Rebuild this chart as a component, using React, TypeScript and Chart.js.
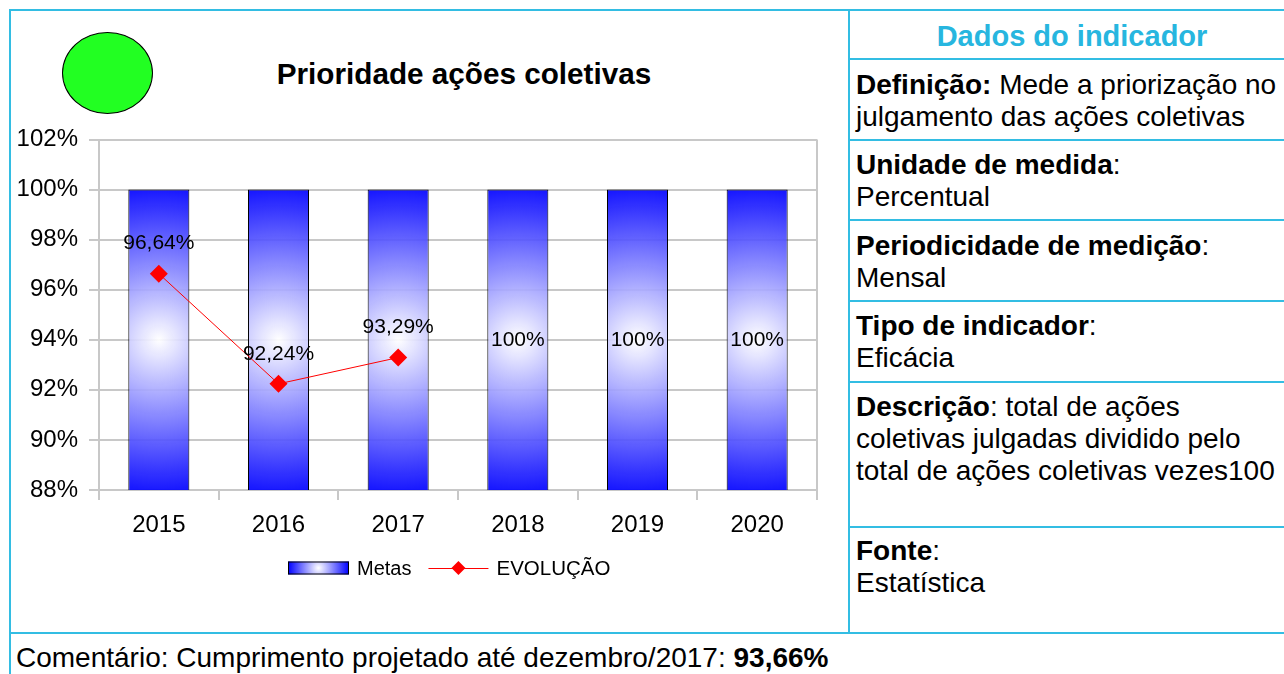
import React, { useEffect, useRef } from 'react';
import { Chart, registerables } from 'chart.js';

Chart.register(...registerables);

// ---------- data ----------
const years = ['2015', '2016', '2017', '2018', '2019', '2020'];
const metas = [100, 100, 100, 100, 100, 100];
const evolucao: (number | null)[] = [96.64, 92.24, 93.29, null, null, null];
const metasLabelShown = [false, false, false, true, true, true];
const yMin = 88;
const yMax = 102;
const yStep = 2;
const chartTitle = 'Prioridade ações coletivas';
const legendMetas = 'Metas';
const legendEvolucao = 'EVOLUÇÃO';
const comentario = 'Comentário: Cumprimento projetado até dezembro/2017: ';
const comentarioValor = '93,66%';

const FONT = '"Liberation Sans", Arial, Helvetica, sans-serif';
const GRID = '#c8c8c8';
const CYAN_LINE = '#33bde3';
const CYAN_TEXT = '#27b6df';

const fmt = (v: number) =>
  (Number.isInteger(v) ? String(v) : v.toFixed(2).replace('.', ',')) + '%';

const decorPlugin = {
  id: 'decor',
  afterDatasetsDraw(chart: any) {
    const c = chart.ctx;
    const a = chart.chartArea;
    const ys = chart.scales.y;
    c.save();
    // plot-area right border
    c.strokeStyle = GRID;
    c.lineWidth = 2;
    c.beginPath();
    c.moveTo(a.right, a.top);
    c.lineTo(a.right, a.bottom);
    c.stroke();
    // data labels
    c.fillStyle = '#000';
    c.font = `21px ${FONT}`;
    c.textAlign = 'center';
    c.textBaseline = 'middle';
    chart.data.datasets.forEach((ds: any, di: number) => {
      const meta = chart.getDatasetMeta(di);
      const isLine = meta.type === 'line';
      meta.data.forEach((el: any, i: number) => {
        const v = ds.data[i];
        if (v == null) return;
        if (isLine) {
          c.fillText(fmt(v), el.x, el.y - 30);
        } else if (metasLabelShown[i]) {
          const yc = (ys.getPixelForValue(v) + ys.getPixelForValue(ys.min)) / 2;
          c.fillText(fmt(v), el.x, yc);
        }
      });
    });
    c.restore();
  },
  afterDraw(chart: any) {
    const c = chart.ctx;
    const a = chart.chartArea;
    const y = a.bottom + 78;
    const x = a.left + 189;
    c.save();
    // Metas box
    const bw = 61;
    const bh = 13;
    const g = c.createRadialGradient(x + bw / 2, y, 0, x + bw / 2, y, bw / 2);
    g.addColorStop(0, '#ffffff');
    g.addColorStop(1, '#0000ff');
    c.fillStyle = g;
    c.fillRect(x, y - bh / 2, bw, bh);
    c.strokeStyle = '#000';
    c.lineWidth = 1;
    c.strokeRect(x + 0.5, y - bh / 2 + 0.5, bw - 1, bh - 1);
    c.font = `20px ${FONT}`;
    c.textAlign = 'left';
    c.textBaseline = 'middle';
    c.fillStyle = '#000';
    const tx = x + bw + 8;
    c.fillText(legendMetas, tx, y + 1);
    // Evolucao line + diamond
    const lx = tx + c.measureText(legendMetas).width + 17;
    c.strokeStyle = '#ff0000';
    c.lineWidth = 1;
    c.beginPath();
    c.moveTo(lx, y + 0.5);
    c.lineTo(lx + 60, y + 0.5);
    c.stroke();
    const dx = lx + 30;
    const r = 7;
    c.fillStyle = '#ff0000';
    c.beginPath();
    c.moveTo(dx, y - r);
    c.lineTo(dx + r, y);
    c.lineTo(dx, y + r);
    c.lineTo(dx - r, y);
    c.closePath();
    c.fill();
    c.fillStyle = '#000';
    c.font = `20.5px ${FONT}`;
    c.fillText(legendEvolucao, lx + 68, y + 1);
    c.restore();
  },
};

function barGradient(ctx: any) {
  const fallback = 'rgba(0,0,255,0.9)';
  const chart = ctx.chart;
  const xs = chart?.scales?.x;
  const ys = chart?.scales?.y;
  if (!xs || !ys || ctx.type !== 'data' || ctx.raw == null) return fallback;
  const cx = xs.getPixelForValue(ctx.dataIndex);
  const top = ys.getPixelForValue(ctx.raw);
  const bottom = ys.getPixelForValue(ys.min);
  if (![cx, top, bottom].every((n) => Number.isFinite(n)) || bottom - top <= 0) return fallback;
  const cy = (top + bottom) / 2;
  const r = (bottom - top) / 2;
  const g = chart.ctx.createRadialGradient(cx, cy, 0, cx, cy, r);
  g.addColorStop(0, 'rgba(255,255,255,0.92)');
  g.addColorStop(1, 'rgba(0,0,255,0.9)');
  return g;
}

function ChartPanel() {
  const ref = useRef<HTMLCanvasElement | null>(null);
  useEffect(() => {
    if (!ref.current) return;
    Chart.defaults.font.family = FONT;
    Chart.defaults.color = '#000';
    const chart = new Chart(ref.current, {
      type: 'bar',
      data: {
        labels: years,
        datasets: [
          {
            type: 'line',
            label: legendEvolucao,
            data: evolucao,
            borderColor: '#ff0000',
            backgroundColor: '#ff0000',
            borderWidth: 1,
            pointStyle: 'rectRot',
            pointRadius: 9,
            pointHoverRadius: 9,
            pointBackgroundColor: '#ff0000',
            pointBorderColor: '#ff0000',
            pointBorderWidth: 0,
            spanGaps: false,
            order: 0,
          } as any,
          {
            type: 'bar',
            label: legendMetas,
            data: metas,
            backgroundColor: barGradient,
            borderColor: '#000',
            borderWidth: 1,
            borderSkipped: false,
            categoryPercentage: 1,
            barPercentage: 0.51,
            order: 1,
          } as any,
        ],
      },
      options: {
        responsive: false,
        animation: false,
        events: [],
        layout: { padding: { top: 129.5, right: 31, left: 0, bottom: 0 } },
        plugins: {
          legend: { display: false },
          tooltip: { enabled: false },
          title: { display: false },
        },
        scales: {
          x: {
            ticks: { font: { size: 24 }, color: '#000', padding: 11 },
            grid: {
              drawOnChartArea: false,
              drawTicks: true,
              tickLength: 10,
              color: GRID,
              lineWidth: 2,
              offset: true,
            },
            border: { color: GRID, width: 2 },
            afterFit: (s: any) => {
              s.height = 142;
            },
          },
          y: {
            min: yMin,
            max: yMax,
            ticks: {
              stepSize: yStep,
              callback: (v: any) => v + '%',
              font: { size: 24 },
              color: '#000',
              padding: 11,
            },
            grid: { color: GRID, lineWidth: 2, tickLength: 10, drawTicks: true },
            border: { color: GRID, width: 2 },
            afterFit: (s: any) => {
              s.width = 89;
            },
          },
        },
      } as any,
      plugins: [decorPlugin],
    });
    return () => chart.destroy();
  }, []);
  return (
    <canvas
      ref={ref}
      width={838}
      height={622}
      style={{ position: 'absolute', left: 10, top: 10, width: 838, height: 622, display: 'block' }}
    />
  );
}

const hLine = (top: number, left: number, width: number) => (
  <div key={`h${top}-${left}`} style={{ position: 'absolute', top, left, width, height: 2, background: CYAN_LINE }} />
);
const vLine = (left: number, top: number, height: number) => (
  <div key={`v${left}-${top}`} style={{ position: 'absolute', top, left, width: 2, height, background: CYAN_LINE }} />
);

const cellText: React.CSSProperties = {
  position: 'absolute',
  left: 856,
  fontSize: 28,
  lineHeight: '32px',
  whiteSpace: 'nowrap',
  color: '#000',
};

export default function App() {
  return (
    <div
      style={{
        position: 'absolute',
        left: 0,
        top: 0,
        width: 1284,
        height: 674,
        overflow: 'hidden',
        background: '#fff',
        fontFamily: FONT,
      }}
    >
      {/* frame lines */}
      {hLine(9, 9, 1290)}
      {vLine(9, 9, 680)}
      {vLine(848, 9, 625)}
      {hLine(632, 9, 1290)}
      {hLine(58, 848, 450)}
      {hLine(139, 848, 450)}
      {hLine(219, 848, 450)}
      {hLine(300, 848, 450)}
      {hLine(381, 848, 450)}
      {hLine(526, 848, 450)}

      {/* green status ellipse */}
      <div
        style={{
          position: 'absolute',
          left: 62,
          top: 32,
          width: 89,
          height: 80,
          borderRadius: '50%',
          background: '#22ff22',
          border: '1px solid #000',
        }}
      />

      {/* title */}
      <div
        style={{
          position: 'absolute',
          left: 0,
          top: 57,
          width: 928,
          textAlign: 'center',
          fontSize: 29.7,
          fontWeight: 'bold',
          lineHeight: '34px',
          whiteSpace: 'nowrap',
        }}
      >
        {chartTitle}
      </div>

      <ChartPanel />

      {/* right panel */}
      <div
        style={{
          position: 'absolute',
          left: 850,
          top: 20,
          width: 444,
          textAlign: 'center',
          fontSize: 29,
          lineHeight: '32px',
          fontWeight: 'bold',
          color: CYAN_TEXT,
          whiteSpace: 'nowrap',
        }}
      >
        Dados do indicador
      </div>
      <div style={{ ...cellText, top: 69 }}>
        <b>Definição:</b> Mede a priorização no
        <br />
        julgamento das ações coletivas
      </div>
      <div style={{ ...cellText, top: 149 }}>
        <b>Unidade de medida</b>:
        <br />
        Percentual
      </div>
      <div style={{ ...cellText, top: 229.5 }}>
        <b>Periodicidade de medição</b>:
        <br />
        Mensal
      </div>
      <div style={{ ...cellText, top: 310 }}>
        <b>Tipo de indicador</b>:
        <br />
        Eficácia
      </div>
      <div style={{ ...cellText, top: 390.5 }}>
        <b>Descrição</b>: total de ações
        <br />
        coletivas julgadas dividido pelo
        <br />
        total de ações coletivas vezes100
      </div>
      <div style={{ ...cellText, top: 535 }}>
        <b>Fonte</b>:
        <br />
        Estatística
      </div>

      {/* comment */}
      <div
        style={{
          position: 'absolute',
          left: 16,
          top: 641.5,
          fontSize: 28,
          lineHeight: '32px',
          whiteSpace: 'nowrap',
        }}
      >
        {comentario}
        <b>{comentarioValor}</b>
      </div>
    </div>
  );
}
